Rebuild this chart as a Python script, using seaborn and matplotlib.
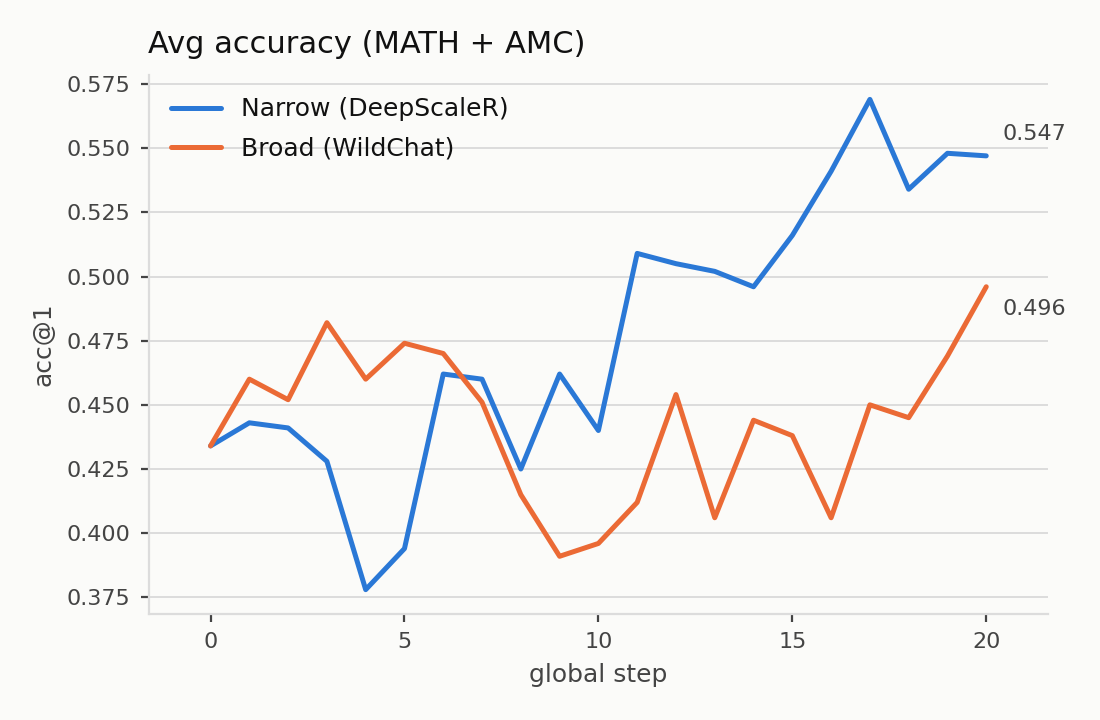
import numpy as np
import pandas as pd
import matplotlib
matplotlib.use("Agg")
import matplotlib.pyplot as plt
import seaborn as sns

steps = list(range(21))
narrow = [0.434, 0.443, 0.441, 0.428, 0.378, 0.394, 0.462, 0.460, 0.425, 0.462, 0.440,
          0.509, 0.505, 0.502, 0.496, 0.516, 0.541, 0.569, 0.534, 0.548, 0.547]
broad = [0.434, 0.460, 0.452, 0.482, 0.460, 0.474, 0.470, 0.451, 0.415, 0.391, 0.396,
         0.412, 0.454, 0.406, 0.444, 0.438, 0.406, 0.450, 0.445, 0.469, 0.496]
series_names = ["Narrow (DeepScaleR)", "Broad (WildChat)"]
colors = ["#2a78d6", "#eb6a35"]

df = pd.DataFrame({
    "step": steps * 2,
    "acc": narrow + broad,
    "run": [series_names[0]] * len(steps) + [series_names[1]] * len(steps),
})

sns.set_theme(style="white")
plt.rcParams["font.family"] = ["DejaVu Sans"]
bg = "#fbfbf9"
fig, ax = plt.subplots(figsize=(5.5, 3.6), dpi=200)
fig.patch.set_facecolor(bg)
ax.set_facecolor(bg)

sns.lineplot(data=df, x="step", y="acc", hue="run", palette=colors,
             hue_order=series_names, linewidth=1.8, ax=ax)
for ln in ax.get_lines():
    ln.set_solid_capstyle("round")
    ln.set_solid_joinstyle("round")

ax.set_xlim(-1.6, 21.6)
ax.yaxis.grid(True, color="#dcdcdc", linewidth=0.7)
ax.xaxis.grid(False)
ax.set_axisbelow(True)
ax.set_xticks([0, 5, 10, 15, 20])
for s in ["top", "right"]:
    ax.spines[s].set_visible(False)
for s in ["left", "bottom"]:
    ax.spines[s].set_color("#dcdcdc")
    ax.spines[s].set_linewidth(0.8)
ax.tick_params(axis="both", which="both", length=3, width=0.8, color="#444444",
               labelcolor="#444444", labelsize=8, left=True, bottom=True)

ax.set_xlabel("global step", fontsize=9, color="#444444")
ax.set_ylabel("acc@1", fontsize=9, color="#444444")
ax.set_title("Avg accuracy (MATH + AMC)", loc="left", fontsize=11, color="#111111", pad=8)

ax.annotate(f"{narrow[-1]:.3f}", xy=(steps[-1], narrow[-1]), xytext=(6, 8),
            textcoords="offset points", fontsize=8, color="#444444", va="center", ha="left")
ax.annotate(f"{broad[-1]:.3f}", xy=(steps[-1], broad[-1]), xytext=(6, -8),
            textcoords="offset points", fontsize=8, color="#444444", va="center", ha="left")

leg = ax.legend(loc="upper left", frameon=False, fontsize=9, title=None,
                handlelength=2.0, handletextpad=0.8, labelspacing=0.6,
                borderaxespad=0.5, labelcolor="#111111")
for line in leg.get_lines():
    line.set_linewidth(1.8)
    line.set_solid_capstyle("round")

fig.subplots_adjust(left=0.135, right=0.953, top=0.896, bottom=0.147)
fig.savefig("out.png", dpi=200, facecolor=bg)
